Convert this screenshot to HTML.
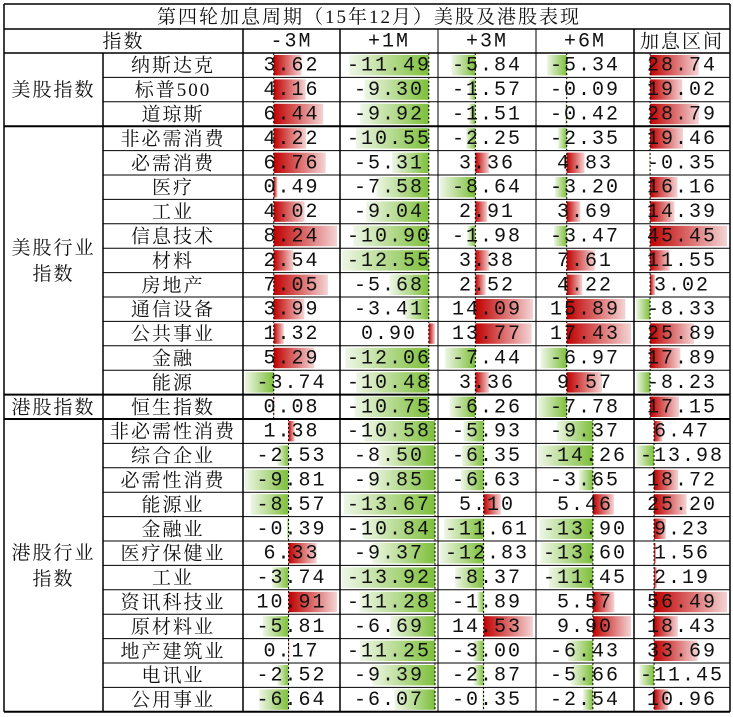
<!DOCTYPE html>
<html><head><meta charset="utf-8">
<style>
html,body{margin:0;padding:0;background:#fff;width:733px;height:717px;overflow:hidden}
svg{display:block}
text{font-family:"Liberation Serif","Noto Serif CJK SC",serif;fill:#111}
.cn{font-size:19px;letter-spacing:2px}
.num{font-family:"Liberation Mono","Noto Serif CJK SC",monospace;font-size:20px;letter-spacing:2px}
</style></head><body>
<svg id="chart" width="733" height="717" xmlns="http://www.w3.org/2000/svg">
<defs>
<linearGradient id="gRedR" x1="0" x2="1"><stop offset="0" stop-color="#c00000"/><stop offset="1" stop-color="#f4d4d4"/></linearGradient>
<linearGradient id="gGreenL" x1="1" x2="0"><stop offset="0" stop-color="#7dbf3a"/><stop offset="1" stop-color="#eef6e6"/></linearGradient>
</defs>
</svg>
<script>
const title = "第四轮加息周期（15年12月）美股及港股表现";
const headers = ["-3M","+1M","+3M","+6M","加息区间"];
const rowNames = ["纳斯达克","标普500","道琼斯","非必需消费","必需消费","医疗","工业","信息技术","材料","房地产","通信设备","公共事业","金融","能源","恒生指数","非必需性消费","综合企业","必需性消费","能源业","金融业","医疗保健业","工业","资讯科技业","原材料业","地产建筑业","电讯业","公用事业"];
const groupLabels = [["美股指数",0,2],["美股行业\n指数",3,13],["港股指数",14,14],["港股行业\n指数",15,26]];
const m3 = [3.62,4.16,6.44,4.22,6.76,0.49,4.02,8.24,2.54,7.05,3.99,1.32,5.29,-3.74,0.08,1.38,-2.53,-9.81,-8.57,-0.39,6.33,-3.74,10.91,-5.81,0.17,-2.52,-6.64];
const p1 = [-11.49,-9.30,-9.92,-10.55,-5.31,-7.58,-9.04,-10.90,-12.55,-5.68,-3.41,0.90,-12.06,-10.48,-10.75,-10.58,-8.50,-9.85,-13.67,-10.84,-9.37,-13.92,-11.28,-6.69,-11.25,-9.39,-6.07];
const p3 = [-5.84,-1.57,-1.51,-2.25,3.36,-8.64,2.91,-1.98,3.38,2.52,14.09,13.77,-7.44,3.36,-6.26,-5.93,-6.35,-6.63,5.10,-11.61,-12.83,-8.37,-1.89,14.53,-3.00,-2.87,-0.35];
const p6 = [-5.34,-0.09,-0.42,-2.35,4.83,-3.20,3.69,-3.47,7.61,4.22,15.89,17.43,-6.97,9.57,-7.78,-9.37,-14.26,-3.65,5.46,-13.90,-13.60,-11.45,5.57,9.90,-6.43,-5.66,-2.54];
const hike = [28.74,19.02,28.79,19.46,-0.35,16.16,14.39,45.45,11.55,3.02,-8.33,25.89,17.89,-8.23,17.15,6.47,-13.98,18.72,25.20,9.23,1.56,2.19,56.49,18.43,33.69,-11.45,10.96];
const barGroups = [[0,14],[15,26]];

const svg = document.getElementById('chart');
const NS = "http://www.w3.org/2000/svg";
const colX = [4,103,243,340,438,536,634,730];
const top0 = 4, titleH = 25, headH = 24, rowH = 24.4;
const dataTop = top0 + titleH + headH;
function rowY(i){ return dataTop + i*rowH; }
function mk(tag, attrs){ const e=document.createElementNS(NS,tag); for(const k in attrs) e.setAttribute(k,attrs[k]); svg.appendChild(e); return e; }
function txt(x,y,s,cls){ const t=mk('text',{x:x,y:y,'text-anchor':'middle','dominant-baseline':'central','class':cls}); t.textContent=s; return t; }
function line(x1,y1,x2,y2,w){ const l=mk('line',{x1:x1,y1:y1,x2:x2,y2:y2,stroke:'#000','stroke-width':w});   return l; }

// bars
const cols = [m3,p1,p3,p6,hike];
cols.forEach((vals,c)=>{
  const x0 = colX[c+2]+2, w = colX[c+3]-colX[c+2]-5;
  barGroups.forEach(([a,b])=>{
    const sub = vals.slice(a,b+1);
    const lo = Math.min(0,...sub), hi = Math.max(0,...sub);
    const scale = w/(hi-lo);
    const axis = x0 + (-lo)*scale;
    for(let i=a;i<=b;i++){
      const v = vals[i], len = Math.abs(v)*scale;
      const y = rowY(i)+2, h = rowH-4;
      const r = mk('rect',{x: v>=0?axis:axis-len, y:y, width:len, height:h, fill: v>=0?'url(#gRedR)':'url(#gGreenL)'});
      
      
    }
    if(lo<0){
      const d = mk('line',{x1:axis,y1:rowY(a),x2:axis,y2:rowY(b+1),stroke:'#000','stroke-width':1,'stroke-dasharray':'2,2'});
      
      
    }
  });
});

// title & header
const tt = txt((colX[0]+colX[7])/2+2, top0+titleH/2+1, title, 'cn');


const h0 = txt((colX[0]+colX[2])/2, top0+titleH+headH/2+1, "指数", 'cn');


headers.forEach((h,c)=>{
  const t = txt((colX[c+2]+colX[c+3])/2, top0+titleH+headH/2+1, h, c<4?'num':'cn');
  
  
});

// cells
rowNames.forEach((n,i)=>{
  const t = txt((colX[1]+colX[2])/2, rowY(i)+rowH/2+1, n, 'cn');
  
  
  cols.forEach((vals,c)=>{
    const s = txt((colX[c+2]+colX[c+3])/2, rowY(i)+rowH/2+1, vals[i].toFixed(2), 'num');
    
    
  });
});
groupLabels.forEach(([s,a,b])=>{
  const lines = s.split("\n");
  const cy = (rowY(a)+rowY(b+1))/2;
  lines.forEach((ln,k)=>{
    const t = txt((colX[0]+colX[1])/2, cy + (k-(lines.length-1)/2)*26 + 1, ln, 'cn');
    
    
  });
});

// grid
const bottom = rowY(27);
line(colX[0], top0, colX[7], top0, 1.5);
line(colX[0], top0+titleH, colX[7], top0+titleH, 1.5);
line(colX[0], dataTop, colX[7], dataTop, 1.5);
const thick = [3,14,15];
for(let i=1;i<=27;i++){
  const isGroupStart = groupLabels.some(g=>g[1]===i);
  const x1 = (isGroupStart||i===27) ? colX[0] : colX[1];
  line(x1, rowY(i), colX[7], rowY(i), (thick.includes(i)||i===27)?2:1);
}
line(colX[0], top0, colX[0], bottom, 1.5);
line(colX[7], top0, colX[7], bottom, 1.5);
line(colX[1], dataTop, colX[1], bottom, 1.5);
for(let c=2;c<7;c++) line(colX[c], top0+titleH, colX[c], bottom, (c===3||c===6||c===2)?1.5:1);
</script>
</body></html>
